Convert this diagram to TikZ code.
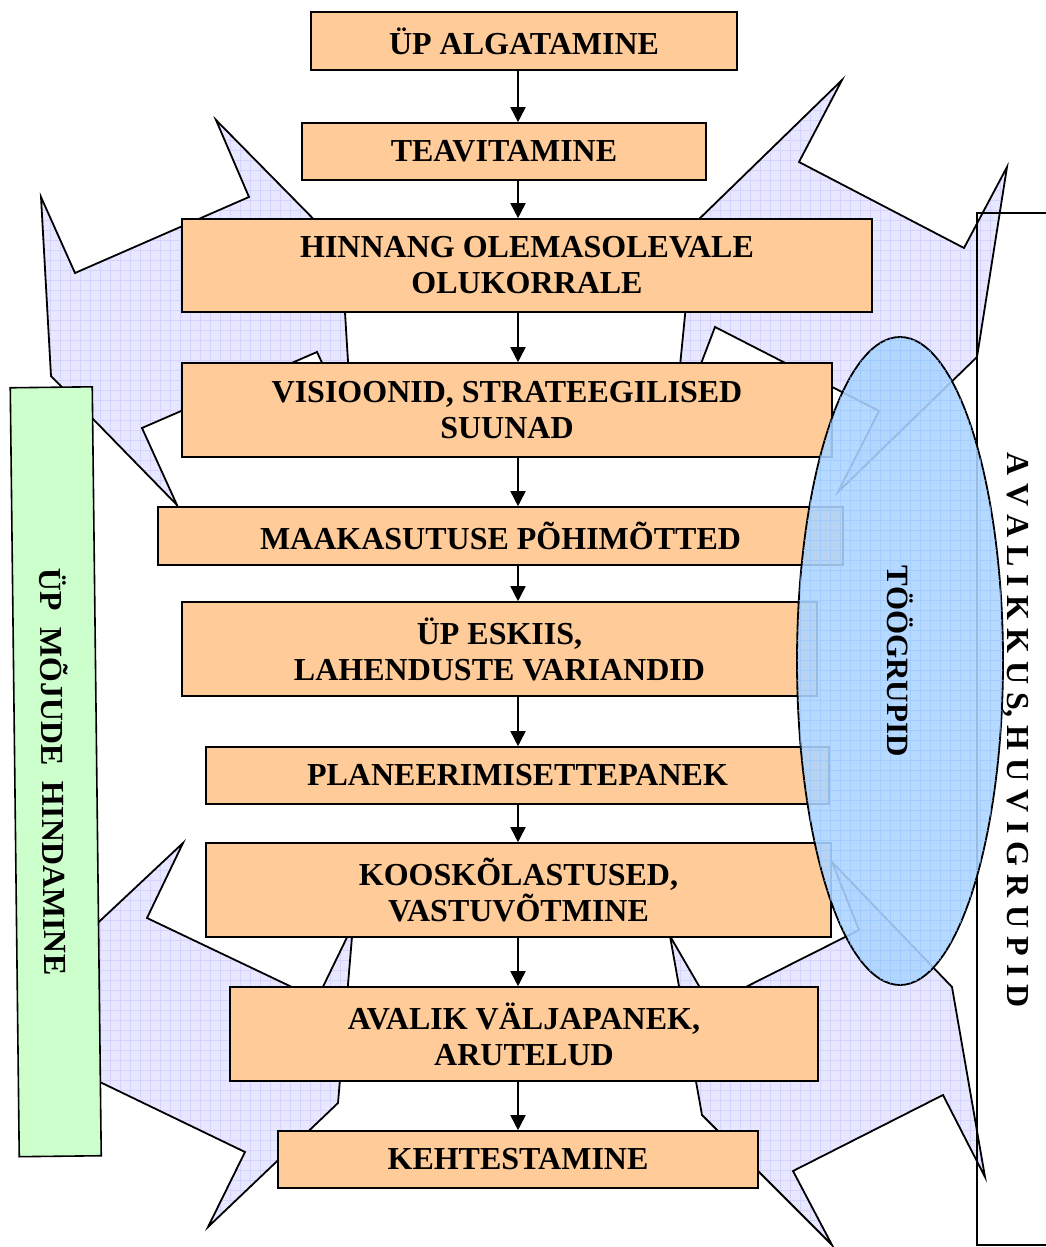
\documentclass[tikz,border=0pt]{standalone}
\usepackage{fontspec}
\setmainfont{Liberation Serif}
\usetikzlibrary{arrows.meta,shapes.geometric}
\definecolor{boxor}{RGB}{255,204,153}
\definecolor{boxgr}{RGB}{204,255,204}
\definecolor{lav}{RGB}{231,231,255}
\definecolor{lavgrid}{RGB}{212,212,255}
\definecolor{ellblue}{RGB}{172,212,255}
\definecolor{ellgrid}{RGB}{150,198,255}
\newcommand\lavshape[1]{%
  \begin{scope}
    \clip #1;
    \fill[lav] (0,0) rectangle (1045,1247);
    \draw[lavgrid, line width=0.3pt, step=5pt] (0,1247) grid (1045,0);
  \end{scope}
  \draw[spike] #1;}
\begin{document}
\begin{tikzpicture}[x=0.5pt,y=-0.5pt,
  stagebox/.style={draw=black, line width=0.8pt, fill=boxor, align=center, inner sep=0pt,
    font=\bfseries\fontsize{16}{18}\selectfont},
  flow/.style={-{Triangle[width=7.5pt,length=7.5pt]}, line width=0.8pt},
  spike/.style={draw=black, line width=0.9pt, line join=miter},
  sidebox/.style={draw=black, line width=0.8pt, fill=boxgr, inner sep=0pt,
    font=\bfseries\fontsize{16}{18}\selectfont},
  groupell/.style={ellipse, draw=black, line width=0.9pt, fill=ellblue, fill opacity=0.88,
    text opacity=1, inner sep=0pt, font=\bfseries\fontsize{15.5}{18}\selectfont},
  sidetext/.style={inner sep=0pt, font=\bfseries\fontsize{16}{18}\selectfont},
]
\useasboundingbox (0,0) rectangle (1045,1247);

% lavender spiked shapes
\lavshape{(216,120) -- (341,247) -- (352,427) -- (317,352) -- (142,428) -- (177,505) -- (51,376) -- (41,197) -- (75,273) -- (249,197) -- cycle}
\lavshape{(842,80) -- (799,162) -- (964,248) -- (1007,167) -- (977,357) -- (838,492) -- (879,411) -- (715,327) -- (673,437) -- (694,224) -- cycle}
\lavshape{(183,843) -- (147,918) -- (317,999) -- (353,925) -- (338,1103) -- (208,1227) -- (245,1152) -- (75,1070) -- (40,1030) -- (70,949) -- cycle}
\lavshape{(832,862) -- (952,987) -- (985,1177) -- (943,1095) -- (793,1171) -- (832,1245) -- (702,1115) -- (670,936) -- (710,1005) -- (859,930) -- cycle}

% public frame on the right
\draw[line width=0.8pt] (1046,213) -- (977,213) -- (977,1245) -- (1046,1245);

% stage boxes
\node[stagebox, minimum width=213pt, minimum height=29pt] (b1) at (524,41) {ÜP ALGATAMINE};
\node[stagebox, minimum width=202pt, minimum height=28.5pt] (b2) at (504,151.5) {TEAVITAMINE};
\node[stagebox, minimum width=345pt, minimum height=46.5pt] (b3) at (527,265.5) {HINNANG OLEMASOLEVALE\\OLUKORRALE};
\node[stagebox, minimum width=325pt, minimum height=47pt] (b4) at (507,410) {VISIOONID, STRATEEGILISED\\SUUNAD};
\node[stagebox, minimum width=342.5pt, minimum height=29pt] (b5) at (500.5,536) {MAAKASUTUSE PÕHIMÕTTED};
\node[stagebox, minimum width=317.5pt, minimum height=47pt] (b6) at (499.5,649) {ÜP ESKIIS,\\LAHENDUSTE VARIANDID};
\node[stagebox, minimum width=311.5pt, minimum height=28.5pt] (b7) at (517.5,775.5) {PLANEERIMISETTEPANEK};
\node[stagebox, minimum width=312.5pt, minimum height=47pt] (b8) at (518.5,890) {KOOSKÕLASTUSED,\\VASTUVÕTMINE};
\node[stagebox, minimum width=294pt, minimum height=47pt] (b9) at (524,1034) {AVALIK VÄLJAPANEK,\\ARUTELUD};
\node[stagebox, minimum width=240pt, minimum height=28.5pt] (b10) at (518,1159.5) {KEHTESTAMINE};

% arrows
\coordinate (ax) at (518,0);
\draw[flow] (b1.south -| ax) -- (b2.north -| ax);
\draw[flow] (b2.south -| ax) -- (b3.north -| ax);
\draw[flow] (b3.south -| ax) -- (b4.north -| ax);
\draw[flow] (b4.south -| ax) -- (b5.north -| ax);
\draw[flow] (b5.south -| ax) -- (b6.north -| ax);
\draw[flow] (b6.south -| ax) -- (b7.north -| ax);
\draw[flow] (b7.south -| ax) -- (b8.north -| ax);
\draw[flow] (b8.south -| ax) -- (b9.north -| ax);
\draw[flow] (b9.south -| ax) -- (b10.north -| ax);

% impact assessment side box
\node[sidebox, rotate=-89.33, minimum width=384.5pt, minimum height=41pt] (impact) at (55.75,771.75) {ÜP\ \ MÕJUDE\ \ HINDAMINE};

% working groups ellipse
\node[groupell, rotate=-90, minimum width=324pt, minimum height=103pt] (tg) at (900,661) {};
\begin{scope}
  \clip (900,661) ellipse [x radius=103, y radius=324];
  \draw[ellgrid, line width=0.3pt, opacity=0.6, step=5pt] (790,1000) grid (1010,330);
\end{scope}
\node[sidetext, font=\bfseries\fontsize{15.5}{18}\selectfont, rotate=-90] (tgtext) at (tg.center) {TÖÖGRUPID};

% public text
\node[sidetext, rotate=-90] (pub) at (1016,730) {A V A L I K K U S, H U V I G R U P I D};
\end{tikzpicture}
\end{document}
